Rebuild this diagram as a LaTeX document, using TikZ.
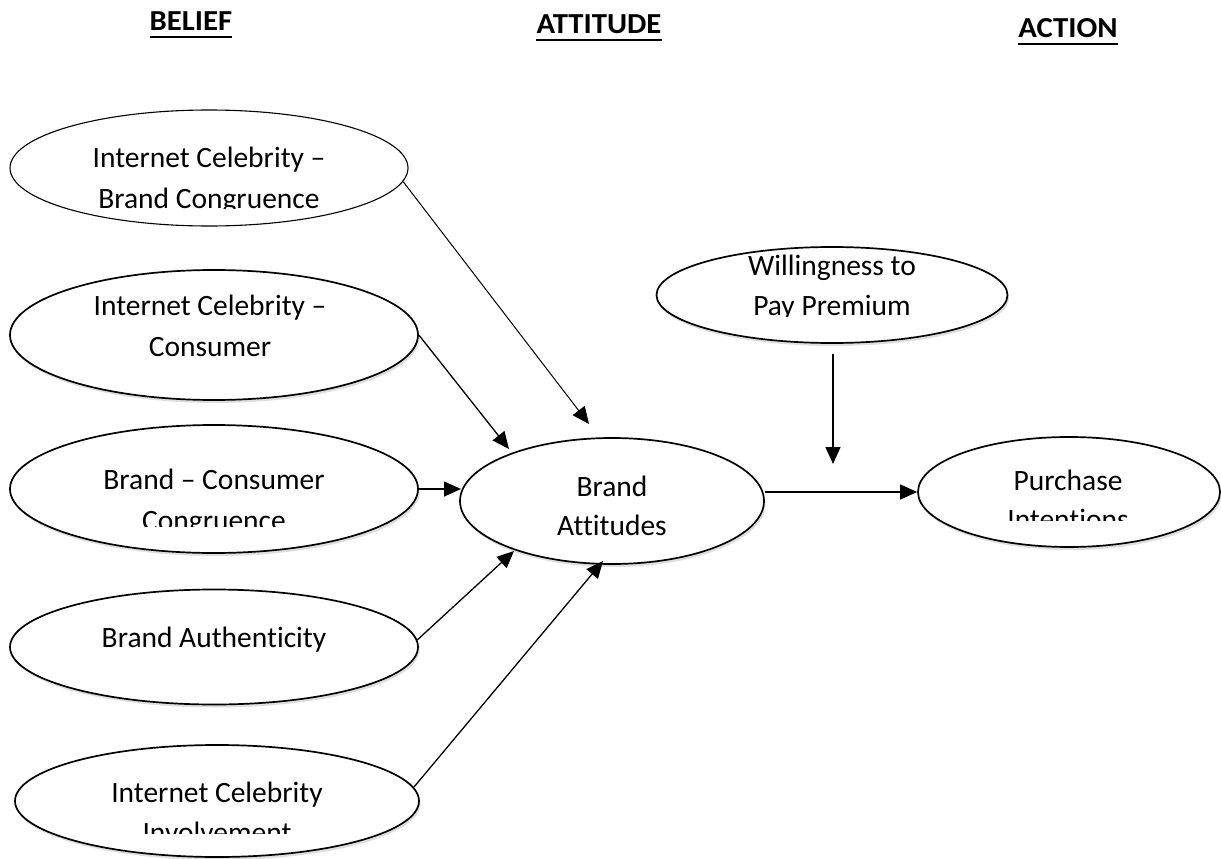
\documentclass[tikz,border=0pt]{standalone}
\usepackage{fontspec}
\setmainfont[Ligatures=NoCommon]{Carlito}
\usetikzlibrary{shapes.geometric,arrows.meta,shadows}
\tikzset{
  oval/.style={ellipse, draw=black, line width=1.7pt, fill=white, inner sep=0pt,
    drop shadow={shadow xshift=1.5pt, shadow yshift=-3pt, fill=black, opacity=0.13}},
  thinoval/.style={ellipse, draw=black, line width=1.1pt, fill=white, inner sep=0pt},
  lbl/.style={anchor=base, inner sep=0pt, font=\fontsize{29.5}{40}\selectfont},
  hdr/.style={anchor=base, inner sep=0pt, xscale=1.06, font=\fontsize{29}{34}\selectfont\bfseries},
  ul/.style={line width=2.8pt},
  arr/.style={line width=1.3pt, -{Triangle[length=17pt,width=15pt]}},
  thinarr/.style={line width=1pt, -{Triangle[length=17pt,width=15pt]}}
}
\begin{document}
\begin{tikzpicture}[x=1pt,y=-1pt]
\useasboundingbox (0,0) rectangle (1221,859);
% headers
\node[hdr] (h1) at (191,31) {BELIEF};
\node[hdr] (h2) at (599,34) {ATTITUDE};
\node[hdr] (h3) at (1068,38) {ACTION};
\draw[ul] ([yshift=-6pt]h1.base west) -- ([yshift=-6pt]h1.base east);
\draw[ul] ([yshift=-6pt]h2.base west) -- ([yshift=-6pt]h2.base east);
\draw[ul] ([yshift=-6pt]h3.base west) -- ([yshift=-6pt]h3.base east);
% ellipses
\node[thinoval, minimum width=398pt, minimum height=116pt] (e1) at (209,168) {};
\node[oval, minimum width=408pt, minimum height=130pt] (e2) at (214,335) {};
\node[oval, minimum width=408pt, minimum height=128pt] (e3) at (214,489) {};
\node[oval, minimum width=408pt, minimum height=115pt] (e4) at (214,647) {};
\node[oval, minimum width=404pt, minimum height=112pt] (e5) at (217,801) {};
\node[oval, minimum width=304pt, minimum height=126pt] (ba) at (612,501) {};
\node[oval, minimum width=351pt, minimum height=96pt] (wp) at (832,295) {};
\node[oval, minimum width=302pt, minimum height=110pt] (pi) at (1069,492) {};
% texts
\node[lbl] (e1a) at (209,167) {Internet Celebrity –};
\begin{scope}\clip (0,180) rectangle (420,208);
\node[lbl] (e1b) at (209,208) {Brand Congruence};
\end{scope}
\node[lbl] (e2a) at (210,315) {Internet Celebrity –};
\node[lbl] (e2b) at (210,356) {Consumer};
\node[lbl] (e3a) at (214,489) {Brand – Consumer};
\begin{scope}\clip (0,500) rectangle (420,526);
\node[lbl] (e3b) at (214,530) {Congruence};
\end{scope}
\node[lbl] (e4a) at (214,647) {Brand Authenticity};
\node[lbl] (e5a) at (217,802) {Internet Celebrity};
\begin{scope}\clip (0,815) rectangle (420,833);
\node[lbl] (e5b) at (217,842) {Involvement};
\end{scope}
\node[lbl] (baa) at (612,496) {Brand};
\node[lbl] (bab) at (612,535) {Attitudes};
\node[lbl] (wpa) at (832,275) {Willingness to};
\begin{scope}\clip (650,285) rectangle (1010,316);
\node[lbl] (wpb) at (832,315) {Pay Premium};
\end{scope}
\node[lbl] (pia) at (1068,490) {Purchase};
\begin{scope}\clip (920,500) rectangle (1220,520);
\node[lbl] (pib) at (1068,529) {Intentions};
\end{scope}
% connector ends
\coordinate (t1) at (589,424);
\coordinate (t2) at (509,449);
\coordinate (t3) at (461,489);
\coordinate (t4) at (514,551);
\coordinate (t5) at (603,561);
\coordinate (w1) at (833,354);
\coordinate (w2) at (833,464);
% connectors
\draw[thinarr] (e1.-4) -- (t1);
\draw[arr] (e2.east) -- (t2);
\draw[arr] (e3.east) -- (t3);
\draw[arr] (e4.2) -- (t4);
\draw[arr] (e5.4) -- (t5);
\draw[arr] (ba.east |- pi.west) -- (pi.west);
\draw[arr] (w1) -- (w2);
\end{tikzpicture}
\end{document}
